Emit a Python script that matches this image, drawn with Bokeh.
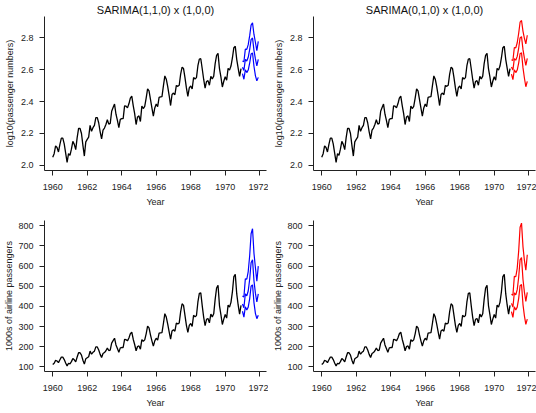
import numpy as np
from bokeh.plotting import figure
from bokeh.layouts import gridplot
from bokeh.models import FixedTicker, PrintfTickFormatter, DataRange1d, Range1d
from bokeh.embed import file_html
from bokeh.resources import INLINE

# Monthly airline passengers (1000s), shown from 1960 onward
passengers = [112, 118, 132, 129, 121, 135, 148, 148, 136, 119, 104, 118,
              115, 126, 141, 135, 125, 149, 170, 170, 158, 133, 114, 140,
              145, 150, 178, 163, 172, 178, 199, 199, 184, 162, 146, 166,
              171, 180, 193, 181, 183, 218, 230, 242, 209, 191, 172, 194,
              196, 196, 236, 235, 229, 243, 264, 272, 237, 211, 180, 201,
              204, 188, 235, 227, 234, 264, 302, 293, 259, 229, 203, 229,
              242, 233, 267, 269, 270, 315, 364, 347, 312, 274, 237, 278,
              284, 277, 317, 313, 318, 374, 413, 405, 355, 306, 271, 306,
              315, 301, 356, 348, 355, 422, 465, 467, 404, 347, 305, 336,
              340, 318, 362, 348, 363, 435, 491, 505, 404, 359, 310, 337,
              360, 342, 406, 396, 420, 472, 548, 559, 463, 407, 362, 405]
series_start = 1960
forecast_start = 1971

# Forecasts on the log10 scale (point, lower, upper)
blue_pt = [2.615, 2.595, 2.665, 2.655, 2.678, 2.727, 2.790, 2.800, 2.722, 2.668, 2.625, 2.665]
blue_lo = [2.575, 2.540, 2.600, 2.582, 2.598, 2.641, 2.699, 2.705, 2.622, 2.563, 2.530, 2.552]
blue_up = [2.655, 2.650, 2.730, 2.728, 2.758, 2.813, 2.881, 2.895, 2.822, 2.773, 2.720, 2.778]

red_pt = [2.618, 2.598, 2.670, 2.660, 2.684, 2.735, 2.800, 2.808, 2.728, 2.673, 2.628, 2.672]
red_lo = [2.573, 2.538, 2.600, 2.582, 2.598, 2.642, 2.701, 2.706, 2.613, 2.548, 2.493, 2.527]
red_up = [2.663, 2.658, 2.740, 2.738, 2.770, 2.828, 2.899, 2.910, 2.843, 2.798, 2.763, 2.817]

titles = ["SARIMA(1,1,0) x (1,0,0)", "SARIMA(0,1,0) x (1,0,0)"]
x_ticks = [1960, 1962, 1964, 1966, 1968, 1970, 1972]
log_ticks = [2.0, 2.2, 2.4, 2.6, 2.8]
raw_ticks = [100, 200, 300, 400, 500, 600, 700, 800]
log_limits = (1.966, 2.935)
raw_limits = (77, 826)

FONT = "Liberation Sans"
TXT = "#222222"

t_obs = series_start + np.arange(len(passengers)) / 12.0
t_fc = forecast_start + np.arange(len(blue_pt)) / 12.0
log_obs = np.log10(passengers)


def make_fig(width, height, bl, br, bt, bb, ylabel, yticks, yfmt, ylim, title=None):
    kw = dict(width=width, height=height, output_backend="svg", toolbar_location=None,
              min_border_left=bl, min_border_right=br, min_border_top=bt, min_border_bottom=bb,
              x_range=DataRange1d(range_padding=0.08),
              y_range=Range1d(start=ylim[0], end=ylim[1]))
    if title is not None:
        kw["title"] = title
    p = figure(**kw)
    p.background_fill_color = "white"
    p.border_fill_color = "white"
    p.outline_line_color = None
    p.xgrid.visible = False
    p.ygrid.visible = False
    if title is not None:
        p.title.text_font = FONT
        p.title.text_font_size = "11px"
        p.title.text_font_style = "normal"
        p.title.text_color = "#111111"
        p.title.align = "center"
        p.title.standoff = 2
    p.xaxis.axis_label = "Year"
    p.yaxis.axis_label = ylabel
    p.xaxis.ticker = FixedTicker(ticks=x_ticks)
    p.yaxis.ticker = FixedTicker(ticks=yticks)
    p.yaxis.formatter = PrintfTickFormatter(format=yfmt)
    for ax in p.axis:
        ax.axis_line_color = "#222222"
        ax.axis_line_width = 1
        ax.major_tick_line_color = "#222222"
        ax.major_tick_out = 5
        ax.major_tick_in = 0
        ax.minor_tick_line_color = None
        ax.major_label_text_font = FONT
        ax.major_label_text_font_size = "9px"
        ax.major_label_text_color = TXT
        ax.axis_label_text_font = FONT
        ax.axis_label_text_font_size = "9px"
        ax.axis_label_text_font_style = "normal"
        ax.axis_label_text_color = TXT
    for ax in p.xaxis:
        ax.major_label_standoff = 8
        ax.axis_label_standoff = 4
    for ax in p.yaxis:
        ax.major_label_standoff = 6
        ax.axis_label_standoff = 3
    return p


def add_lines(p, y_obs, pt, lo, up, color):
    p.line(t_obs, y_obs, line_color="black", line_width=1.3)
    for s in (up, pt, lo):
        p.line(t_fc, s, line_color=color, line_width=1.2)


# top row (log10)
p1 = make_fig(268, 210, 44, 2, 0, 40, "log10(passenger numbers)", log_ticks, "%.1f", log_limits, titles[0])
add_lines(p1, log_obs, blue_pt, blue_lo, blue_up, "blue")
p2 = make_fig(268, 210, 45, 1, 0, 40, "log10(passenger numbers)", log_ticks, "%.1f", log_limits, titles[1])
add_lines(p2, log_obs, red_pt, red_lo, red_up, "red")

# bottom row (1000s of passengers)
def back(v):
    return [10 ** x for x in v]

p3 = make_fig(268, 203, 44, 2, 10, 42, "1000s of airline passengers", raw_ticks, "%d", raw_limits)
add_lines(p3, passengers, back(blue_pt), back(blue_lo), back(blue_up), "blue")
p4 = make_fig(268, 203, 45, 1, 10, 42, "1000s of airline passengers", raw_ticks, "%d", raw_limits)
add_lines(p4, passengers, back(red_pt), back(red_lo), back(red_up), "red")
for p in (p3, p4):
    for ax in p.yaxis:
        ax.axis_label_standoff = 1

grid = gridplot([[p1, p2], [p3, p4]], toolbar_location=None)

open("out.html", "w").write(file_html(grid, INLINE))
